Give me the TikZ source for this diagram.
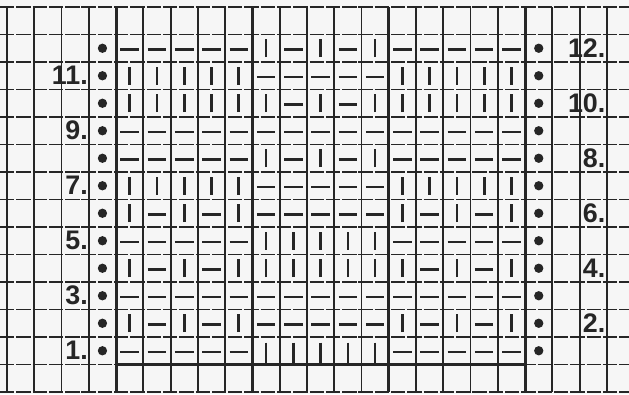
\documentclass[tikz,border=0pt]{standalone}
\usepackage{fontspec}
\usepackage{tikz}
\newfontfamily\rowfont{Liberation Sans}
\definecolor{ink}{gray}{0.15}
\definecolor{paper}{gray}{0.965}

\begin{document}
\begin{tikzpicture}[x=1cm,y=1.0085cm,
        gridline/.style={draw=ink,line width=1.9pt},
        blockline/.style={draw=ink,line width=3.2pt},
        stitch/.style={draw=ink,line width=2.8pt},
        rowlabel/.style={anchor=east,inner sep=0pt,text=ink,
            font={\rowfont\bfseries\fontsize{28}{28}\selectfont}}]
            \useasboundingbox (-0.257,-0.073) rectangle (22.81,14.255);
            \fill[paper] (-0.257,-0.073) rectangle (22.81,14.255);

            % squared paper
            \foreach \y in {0,...,14}{
                \draw[gridline,dash pattern=on 15pt off 2pt] (-0.257,\y) -- (22.81,\y);
            }
            \foreach \x in {0,...,22}{
                \draw[gridline] (\x,0) -- (\x,14);
            }
            \foreach \x in {4,9,14,19}{
                \draw[blockline] (\x,0) -- (\x,14);
            }
            \draw[blockline] (4,1) -- (19,1);

            % stitches: 1 = knit (|), 0 = purl (--)
            \foreach \r/\pat in {
                12/{0,0,0,0,0,1,0,1,0,1,0,0,0,0,0},
                11/{1,1,1,1,1,0,0,0,0,0,1,1,1,1,1},
                10/{1,1,1,1,1,1,0,1,0,1,1,1,1,1,1},
                9/{0,0,0,0,0,0,0,0,0,0,0,0,0,0,0},
                8/{0,0,0,0,0,1,0,1,0,1,0,0,0,0,0},
                7/{1,1,1,1,1,0,0,0,0,0,1,1,1,1,1},
                6/{1,0,1,0,1,0,0,0,0,0,1,0,1,0,1},
                5/{0,0,0,0,0,1,1,1,1,1,0,0,0,0,0},
                4/{1,0,1,0,1,1,1,1,1,1,1,0,1,0,1},
                3/{0,0,0,0,0,0,0,0,0,0,0,0,0,0,0},
                2/{1,0,1,0,1,0,0,0,0,0,1,0,1,0,1},
                1/{0,0,0,0,0,1,1,1,1,1,0,0,0,0,0}}{
                \foreach \s [count=\c] in \pat {
                    \ifnum\s=1
                        \ifnum\r=1
                            \draw[stitch] (\c+3.5,\r+0.8) -- (\c+3.5,\r);
                        \else
                            \draw[stitch] (\c+3.5,\r+0.18) -- (\c+3.5,\r+0.82);
                        \fi
                    \else
                        \draw[stitch] (\c+3.16,\r+0.46) -- (\c+3.84,\r+0.46);
                    \fi
                }
            }

            % edge stitches
            \foreach \r in {1,...,12}{
                \fill[ink] (3.5,\r+0.5) circle (0.17);
                \fill[ink] (19.5,\r+0.5) circle (0.17);
            }

            % row numbers
            \foreach \r in {1,3,...,11}{
                \node[rowlabel] (row\r) at (2.97,\r+0.5) {\r.};
            }
            \foreach \r in {2,4,...,12}{
                \node[rowlabel] (row\r) at (21.95,\r+0.5) {\r.};
            }
        \end{tikzpicture}
\end{document}
